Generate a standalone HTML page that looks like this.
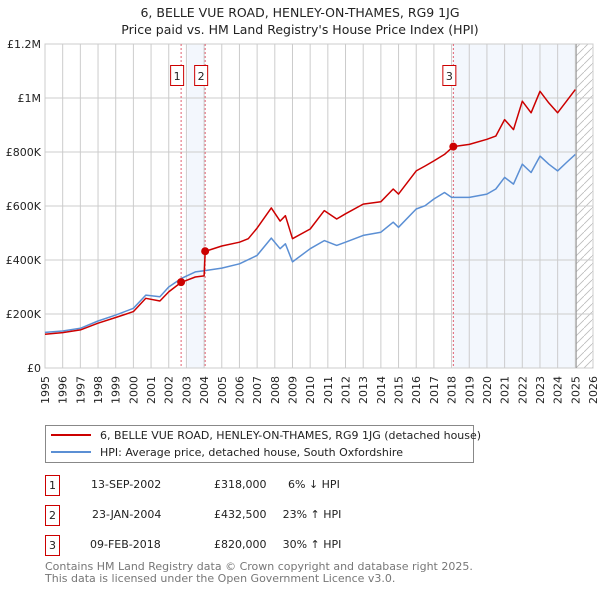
<!DOCTYPE html>
<html><head><meta charset="utf-8"><style>
body{margin:0;background:#fff;font-family:"Liberation Sans","DejaVu Sans",sans-serif;}
svg text{font-family:"DejaVu Sans","Liberation Sans",sans-serif;}
</style></head><body>
<svg id="c" width="600" height="590" xmlns="http://www.w3.org/2000/svg">
<text x="300" y="17" text-anchor="middle" font-size="12.5" fill="#222">6, BELLE VUE ROAD, HENLEY-ON-THAMES, RG9 1JG</text>
<text x="300" y="34" text-anchor="middle" font-size="12.5" fill="#222">Price paid vs. HM Land Registry's House Price Index (HPI)</text>
<g id="plot"></g>
<g>
<rect x="45.5" y="425.5" width="428" height="37" fill="#fff" stroke="#888"/>
<line x1="51" y1="435" x2="91" y2="435" stroke="#cc0000" stroke-width="2"/>
<text x="100" y="439" font-size="11" fill="#222">6, BELLE VUE ROAD, HENLEY-ON-THAMES, RG9 1JG (detached house)</text>
<line x1="51" y1="452" x2="91" y2="452" stroke="#5b8fd4" stroke-width="2"/>
<text x="100" y="456" font-size="11" fill="#222">HPI: Average price, detached house, South Oxfordshire</text>
</g>
<g font-size="11" fill="#222">
<rect x="45.5" y="475.5" width="14" height="20" fill="#fff" stroke="#cc0000"/><text x="52.5" y="489" text-anchor="middle">1</text>
<text x="91" y="488">13-SEP-2002</text><text x="214" y="488">£318,000</text><text x="288" y="488">6% ↓ HPI</text>
<rect x="45.5" y="505.5" width="14" height="20" fill="#fff" stroke="#cc0000"/><text x="52.5" y="519" text-anchor="middle">2</text>
<text x="92" y="518">23-JAN-2004</text><text x="214" y="518">£432,500</text><text x="312" y="518" text-anchor="middle">23% ↑ HPI</text>
<rect x="45.5" y="535.5" width="14" height="20" fill="#fff" stroke="#cc0000"/><text x="52.5" y="549" text-anchor="middle">3</text>
<text x="90" y="548">09-FEB-2018</text><text x="214" y="548">£820,000</text><text x="312" y="548" text-anchor="middle">30% ↑ HPI</text>
</g>
<text x="45" y="570" font-size="11" fill="#777">Contains HM Land Registry data © Crown copyright and database right 2025.</text>
<text x="45" y="582" font-size="11" fill="#777">This data is licensed under the Open Government Licence v3.0.</text>
</svg>
<script>
const hpiYears=[1995,1996,1997,1998,1999,2000,2000.7,2001.5,2002,2002.7,2003.5,2004,2005,2006,2007,2007.8,2008.3,2008.6,2009,2010,2010.8,2011.5,2012,2013,2014,2014.7,2015,2016,2016.5,2017,2017.6,2018,2019,2020,2020.5,2021,2021.5,2022,2022.5,2023,2023.5,2024,2024.5,2025];
const hpiValues=[132,137,147,174,196,221,270,264,300,331,356,360,370,386,417,481,442,460,393,442,472,454,466,491,503,540,521,589,601,626,650,632,632,644,663,706,681,755,724,785,755,730,761,791];
const propYears=[1995,1996,1997,1998,1999,2000,2000.7,2001.5,2002,2002.7,2003.5,2004.0,2004.06,2005,2006,2006.5,2007,2007.8,2008.3,2008.6,2009,2010,2010.8,2011.5,2012,2013,2014,2014.7,2015,2016,2016.5,2017,2017.6,2018.1,2019,2020,2020.5,2021,2021.5,2022,2022.5,2023,2023.5,2024,2024.5,2025];
const propValues=[125,131,141,166,187,209,258,248,282,317,337,341,432,452,466,479,518,593,544,564,479,515,583,552,571,607,616,663,644,730,748,767,791,820,828,847,859,920,883,988,945,1025,982,945,988,1031];
const saleYears=[2002.7,2004.06,2018.1];
const saleValues=[318,432.5,820];
const saleLabels=["1","2","3"];
const yTicks=[0,200,400,600,800,1000,1200];
const yTickLabels=["£0","£200K","£400K","£600K","£800K","£1M","£1.2M"];
const xStart=1995,xEnd=2026;
const X0=45,X1=593,Y0=368,Y1=44;
const sx=y=>X0+(y-xStart)/(xEnd-xStart)*(X1-X0);
const sy=v=>Y0-v/1200*(Y0-Y1);
const NS="http://www.w3.org/2000/svg";
const g=document.getElementById('plot');
function mk(t,a,p){const e=document.createElementNS(NS,t);for(const k in a)e.setAttribute(k,a[k]);(p||g).appendChild(e);return e;}
let r=mk('rect',{x:sx(2003.05),y:Y1,width:sx(saleYears[1])-sx(2003.05),height:Y0-Y1,fill:'#eef3fc',opacity:0.7});

r=mk('rect',{x:sx(saleYears[2]),y:Y1,width:sx(2025.05)-sx(saleYears[2]),height:Y0-Y1,fill:'#eef3fc',opacity:0.7});

const defs=mk('defs',{});
const pat=mk('pattern',{id:'h',width:8,height:8,patternUnits:'userSpaceOnUse'},defs);
mk('path',{d:'M0,8 L8,0',stroke:'#bbb','stroke-width':0.8},pat);
r=mk('rect',{x:sx(2025.05),y:Y1,width:X1-sx(2025.05),height:Y0-Y1,fill:'url(#h)'});

for(let y=xStart;y<=xEnd;y++){
 const l=mk('line',{x1:sx(y),x2:sx(y),y1:Y1,y2:Y0,stroke:'#ccc','stroke-width':1});
 
 const t=mk('text',{x:0,y:0,'font-size':11,fill:'#222','text-anchor':'end',transform:`translate(${sx(y)+4},${Y0+8}) rotate(-90)`});
 t.textContent=y;
}
yTicks.forEach((v,i)=>{
 const l=mk('line',{x1:X0,x2:X1,y1:sy(v),y2:sy(v),stroke:'#ccc','stroke-width':1});
 
 const t=mk('text',{x:X0-4,y:sy(v)+4,'font-size':11,fill:'#222','text-anchor':'end'});
 t.textContent=yTickLabels[i];
});
const br=mk('rect',{x:X0,y:Y1,width:X1-X0,height:Y0-Y1,fill:'none',stroke:'#ccc'});

const ev=mk('line',{x1:sx(2025.05),x2:sx(2025.05),y1:Y1,y2:Y0,stroke:'#999','stroke-width':1});

saleYears.forEach((y,i)=>{
 const l=mk('line',{x1:sx(y),x2:sx(y),y1:Y1,y2:Y0,stroke:'#e06070','stroke-width':1,'stroke-dasharray':'2,2'});
 
 const bx=sx(y)-10.5;
 const b=mk('rect',{x:bx,y:65.5,width:13,height:20,fill:'#fff',stroke:'#cc0000'});
 
 const t=mk('text',{x:bx+6.5,y:80,'font-size':11,fill:'#222','text-anchor':'middle'});
 t.textContent=saleLabels[i];
});
const line=(xs,vs,col,name)=>{const p=mk('path',{d:xs.map((x,i)=>(i?'L':'M')+sx(x).toFixed(1)+','+sy(vs[i]).toFixed(1)).join(''),fill:'none',stroke:col,'stroke-width':1.5,'stroke-linejoin':'round'});
 };
line(hpiYears,hpiValues,'#5b8fd4','hpi-line');
line(propYears,propValues,'#cc0000','property-line');
saleYears.forEach((y,i)=>{const c=mk('circle',{cx:sx(y),cy:sy(saleValues[i]),r:4,fill:'#cc0000'});
 });
</script>
</body></html>
